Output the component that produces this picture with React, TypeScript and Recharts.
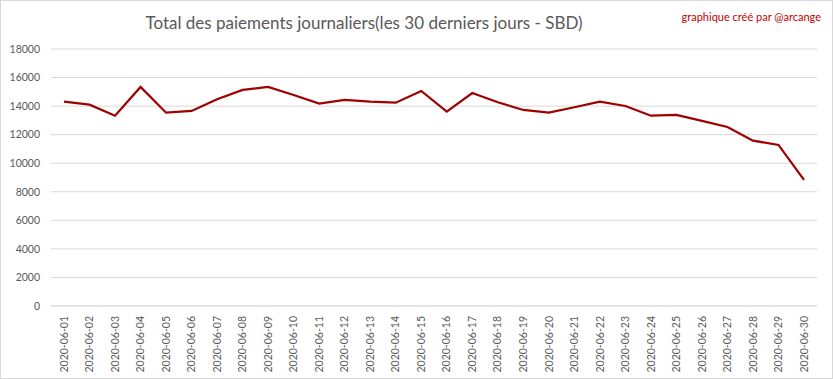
import { LineChart, Line, XAxis, YAxis, CartesianGrid } from "recharts"

const dates = [
  "2020-06-01", "2020-06-02", "2020-06-03", "2020-06-04", "2020-06-05",
  "2020-06-06", "2020-06-07", "2020-06-08", "2020-06-09", "2020-06-10",
  "2020-06-11", "2020-06-12", "2020-06-13", "2020-06-14", "2020-06-15",
  "2020-06-16", "2020-06-17", "2020-06-18", "2020-06-19", "2020-06-20",
  "2020-06-21", "2020-06-22", "2020-06-23", "2020-06-24", "2020-06-25",
  "2020-06-26", "2020-06-27", "2020-06-28", "2020-06-29", "2020-06-30",
]

const payments = [
  14310, 14100, 13330, 15340, 13540, 13660, 14480, 15130, 15340, 14780,
  14170, 14430, 14310, 14240, 15060, 13610, 14920, 14270, 13730, 13540,
  13920, 14310, 14010, 13330, 13380, 12960, 12540, 11580, 11280, 8830,
]

const yTicks = [0, 2000, 4000, 6000, 8000, 10000, 12000, 14000, 16000, 18000]

const data = dates.map((d, i) => ({ date: d, value: payments[i] }))

const font = "Lato, 'Open Sans', sans-serif"

function DateTick(props: any) {
  const { x, y, payload } = props
  return (
    <g transform={`translate(${x},${y})`}>
      <text
        transform="rotate(-90)"
        x={0}
        y={0}
        dy="0.35em"
        textAnchor="end"
        fill="#595959"
        fontSize={10.5}
        fontFamily={font}
      >
        {payload.value}
      </text>
    </g>
  )
}

export default function App() {
  return (
    <div style={{ position: "absolute", left: 0, top: 0, width: 833, height: 379, background: "#fff", fontFamily: font }}>
      <LineChart width={833} height={379} data={data} margin={{ top: 49, right: 16, bottom: 0, left: 0 }}>
        <CartesianGrid vertical={false} stroke="#d9d9d9" />
        <XAxis
          dataKey="date"
          interval={0}
          height={73}
          padding={{ left: 13, right: 13 }}
          tick={<DateTick />}
          tickLine={false}
          tickMargin={4}
          axisLine={{ stroke: "#d9d9d9" }}
        />
        <YAxis
          width={51}
          domain={[0, 18000]}
          ticks={yTicks}
          axisLine={false}
          tickLine={false}
          tickMargin={5}
          tick={{ fill: "#595959", fontSize: 10.5, fontFamily: font }}
        />
        <Line
          type="linear"
          dataKey="value"
          stroke="#a00000"
          strokeWidth={2.25}
          dot={false}
          isAnimationActive={false}
        />
      </LineChart>
      <div style={{ position: "absolute", left: 0, top: 12, width: 728, textAlign: "center", fontSize: 17, color: "#595959" }}>
        Total des paiements journaliers(les 30 derniers jours - SBD)
      </div>
      <div style={{ position: "absolute", right: 12, top: 10, fontSize: 11, color: "#c00000" }}>
        graphique créé par @arcange
      </div>
      <div style={{ position: "absolute", left: 0, top: 0, width: 833, height: 379, boxSizing: "border-box", border: "1px solid #d9d9d9", pointerEvents: "none" }} />
    </div>
  )
}
